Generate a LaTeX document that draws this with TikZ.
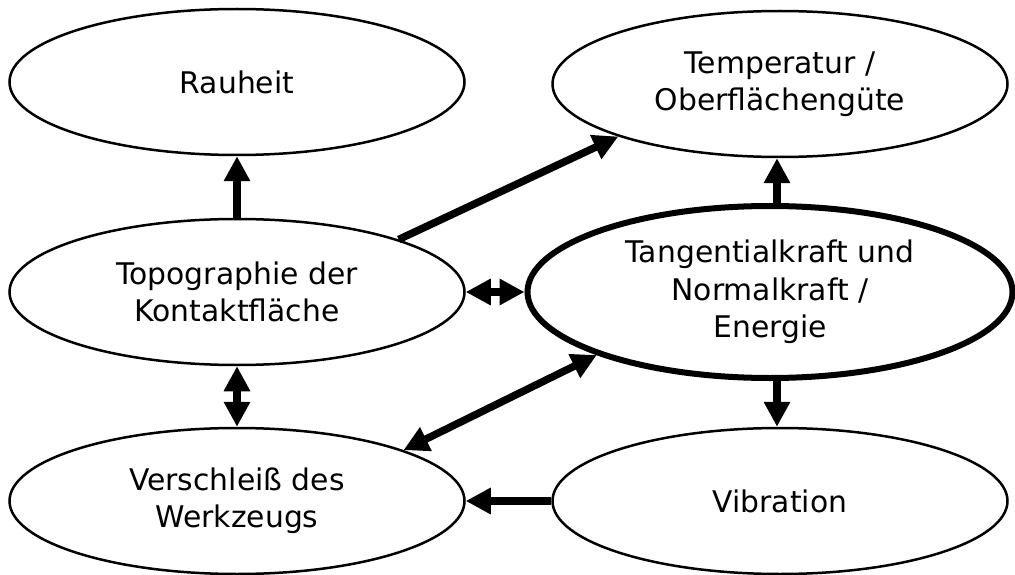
\documentclass[tikz,border=0pt]{standalone}
\usepackage{fontspec}
\setmainfont{DejaVu Sans}
\usetikzlibrary{shapes.geometric,arrows.meta,calc}
\begin{document}
\begin{tikzpicture}[x=1pt,y=-1pt,
  bubble/.style={ellipse,draw,line width=2.5pt,inner sep=0pt,
    minimum width=455pt,minimum height=146pt,align=center,
    font=\fontsize{29.8}{37.5}\selectfont},
  bigbubble/.style={bubble,line width=6pt,minimum width=485pt,minimum height=172pt},
  arr/.style={line width=7.5pt,-{Triangle[length=25pt,width=25pt]}},
  darr/.style={line width=7.5pt,{Triangle[length=25pt,width=25pt]}-{Triangle[length=25pt,width=25pt]}}]
\useasboundingbox (0,0) rectangle (1015,575);
\node[bubble] (rau) at (237,82) {Rauheit};
\node[bubble] (temp) at (780,84) {Temperatur /\\Oberflächengüte};
\node[bubble] (topo) at (237,292) {Topographie der\\Kontaktfläche};
\node[bigbubble] (tang) at (770,292) {Tangentialkraft und\\Normalkraft /\\Energie};
\node[bubble] (vers) at (237,501) {Verschleiß des\\Werkzeugs};
\node[bubble] (vib) at (780,501) {Vibration};
\draw[arr] (topo.north) -- (rau.south);
\draw[arr] (topo.18) -- (temp.198);
\draw[darr] (topo.east) -- (tang.west);
\draw[darr] (topo.south) -- (vers.north);
\draw[darr] (vers.17) -- (tang.200);
\draw[arr] ([xshift=7pt]tang.north) -- ([xshift=7pt]tang.north |- temp.south);
\draw[arr] ([xshift=7pt]tang.south) -- ([xshift=7pt]tang.south |- vib.north);
\draw[arr] (vib.west) -- (vers.east);
\end{tikzpicture}
\end{document}
